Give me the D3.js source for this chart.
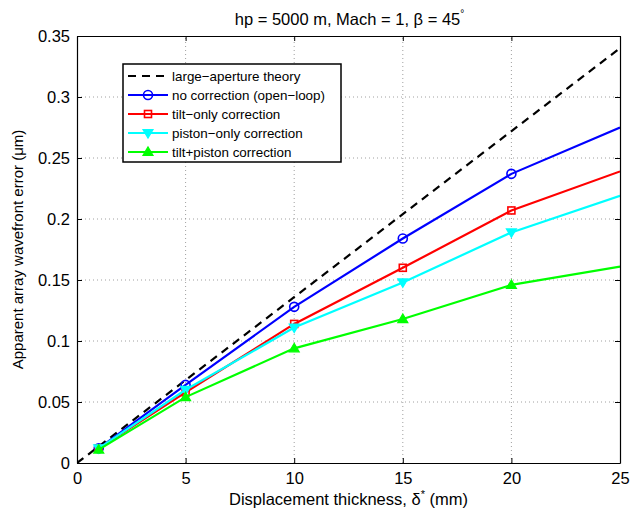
<!DOCTYPE html>
<html>
<head>
<meta charset="utf-8">
<script src="https://cdn.jsdelivr.net/npm/d3@7"></script>
<style>
  body { margin: 0; background: #fff; }
  text { font-family: "Liberation Sans", Arial, sans-serif; fill: #000; }
</style>
</head>
<body>
<div id="chart"></div>
<script>
// data
var thickness = [1, 5, 10, 15, 20, 25];
var theoryX = [0, 25];
var theoryY = [0, 0.340];
var openLoop = [0.012, 0.064, 0.128, 0.184, 0.237, 0.275];
var tiltOnly = [0.012, 0.058, 0.114, 0.160, 0.207, 0.239];
var pistonOnly = [0.012, 0.060, 0.111, 0.148, 0.189, 0.219];
var tiltPiston = [0.011, 0.054, 0.094, 0.118, 0.146, 0.161];
var xTicks = [0, 5, 10, 15, 20, 25];
var yTicks = [0, 0.05, 0.1, 0.15, 0.2, 0.25, 0.3, 0.35];

var series = [
  { name: "no correction (open\u2212loop)", values: openLoop, color: "#0000ff", marker: "circle" },
  { name: "tilt\u2212only correction", values: tiltOnly, color: "#ff0000", marker: "square" },
  { name: "piston\u2212only correction", values: pistonOnly, color: "#00ffff", marker: "down" },
  { name: "tilt+piston correction", values: tiltPiston, color: "#00ff00", marker: "up" }
];

var W = 630, H = 513;
var m = { left: 77, right: 10, top: 36, bottom: 50 };

var svg = d3.select("#chart").append("svg")
  .attr("width", W).attr("height", H);

var x = d3.scaleLinear().domain([0, 25]).range([m.left, W - m.right]);
var y = d3.scaleLinear().domain([0, 0.35]).range([H - m.bottom, m.top]);

// grid
var grid = svg.append("g").attr("stroke", "#888").attr("stroke-width", 0.8)
  .attr("stroke-dasharray", "1,3");
grid.selectAll(".gx").data(xTicks.slice(1, -1)).enter().append("line")
  .attr("x1", d => x(d)).attr("x2", d => x(d))
  .attr("y1", y(0)).attr("y2", y(0.35));
grid.selectAll(".gy").data(yTicks.slice(1, -1)).enter().append("line")
  .attr("y1", d => y(d)).attr("y2", d => y(d))
  .attr("x1", x(0)).attr("x2", x(25));

svg.append("defs").append("clipPath").attr("id", "clip")
  .append("rect").attr("x", x(0)).attr("y", y(0.35))
  .attr("width", x(25) - x(0)).attr("height", y(0) - y(0.35));

var plot = svg.append("g").attr("clip-path", "url(#clip)");

// theory line
var line = d3.line().x(d => x(d[0])).y(d => y(d[1]));
plot.append("path")
  .datum(d3.zip(theoryX, theoryY))
  .attr("d", line).attr("fill", "none")
  .attr("stroke", "#000").attr("stroke-width", 2.2)
  .attr("stroke-dasharray", "8,6");

function drawMarker(g, type, cx, cy, color) {
  if (type === "circle") {
    g.append("circle").attr("cx", cx).attr("cy", cy).attr("r", 4.5)
      .attr("fill", "none").attr("stroke", color).attr("stroke-width", 1.6);
  } else if (type === "square") {
    g.append("rect").attr("x", cx - 3.5).attr("y", cy - 3.5).attr("width", 7).attr("height", 7)
      .attr("fill", "none").attr("stroke", color).attr("stroke-width", 1.6);
  } else {
    var s = type === "up" ? -1 : 1;
    var pts = [[cx - 5, cy - s * 3.5], [cx + 5, cy - s * 3.5], [cx, cy + s * 5]];
    g.append("path").attr("d", "M" + pts.join("L") + "Z")
      .attr("fill", color).attr("stroke", color).attr("stroke-width", 1.2);
  }
}

series.forEach(function (s) {
  var pts = d3.zip(thickness, s.values);
  plot.append("path").datum(pts).attr("d", line)
    .attr("fill", "none").attr("stroke", s.color).attr("stroke-width", 2.2);
  var g = plot.append("g");
  pts.filter(p => p[0] < 25).forEach(function (p) {
    drawMarker(g, s.marker, x(p[0]), y(p[1]), s.color);
  });
});

// axes box with inward ticks
var axisG = svg.append("g");
axisG.append("g").attr("transform", "translate(0," + y(0) + ")")
  .call(d3.axisBottom(x).tickValues(xTicks).tickSizeInner(-5).tickSizeOuter(0).tickPadding(9));
axisG.append("g").attr("transform", "translate(0," + y(0.35) + ")")
  .call(d3.axisTop(x).tickValues(xTicks).tickSizeInner(-5).tickSizeOuter(0).tickFormat(""));
axisG.append("g").attr("transform", "translate(" + x(0) + ",0)")
  .call(d3.axisLeft(y).tickValues(yTicks).tickSizeInner(-5).tickSizeOuter(0).tickPadding(7)
    .tickFormat(d => d === 0 ? "0" : d3.format("")(+d.toFixed(2))));
axisG.append("g").attr("transform", "translate(" + x(25) + ",0)")
  .call(d3.axisRight(y).tickValues(yTicks).tickSizeInner(-5).tickSizeOuter(0).tickFormat(""));
axisG.selectAll("path").attr("stroke", "#000").attr("stroke-width", 1.2);
axisG.selectAll("line").attr("stroke", "#000");
axisG.selectAll("text").style("font-size", "16.5px").style("font-family", "Liberation Sans, Arial, sans-serif");

// title
var title = svg.append("text").attr("x", (x(0) + x(25)) / 2 + 1).attr("y", 25)
  .attr("text-anchor", "middle").style("font-size", "16.5px");
title.append("tspan").text("hp = 5000 m, Mach = 1, \u03b2 = 45");
title.append("tspan").attr("dy", -8).style("font-size", "10px").text("\u00b0");

// x label
var xl = svg.append("text").attr("x", (x(0) + x(25)) / 2).attr("y", 505)
  .attr("text-anchor", "middle").style("font-size", "16.5px");
xl.append("tspan").text("Displacement thickness, \u03b4");
xl.append("tspan").attr("dy", -7).style("font-size", "11px").text("*");
xl.append("tspan").attr("dy", 7).text(" (mm)");

// y label
svg.append("text")
  .attr("transform", "translate(23," + (y(0.175)) + ") rotate(-90)")
  .attr("text-anchor", "middle").style("font-size", "15px")
  .text("Apparent array wavefront error (\u03bcm)");

// legend
var lg = svg.append("g");
lg.append("rect").attr("x", 123).attr("y", 64).attr("width", 218).attr("height", 98)
  .attr("fill", "#fff").attr("stroke", "#000").attr("stroke-width", 1.5);
var legendItems = [{ name: "large\u2212aperture theory", color: "#000", marker: null }].concat(series);
legendItems.forEach(function (s, i) {
  var cy = 76 + i * 19;
  lg.append("line").attr("x1", 128).attr("x2", 168).attr("y1", cy).attr("y2", cy)
    .attr("stroke", s.color).attr("stroke-width", 2.2)
    .attr("stroke-dasharray", s.marker ? null : "8,6");
  if (s.marker) drawMarker(lg, s.marker, 148, cy, s.color);
  lg.append("text").attr("x", 172).attr("y", cy + 4.5).style("font-size", "13.4px").text(s.name);
});
</script>
</body>
</html>
